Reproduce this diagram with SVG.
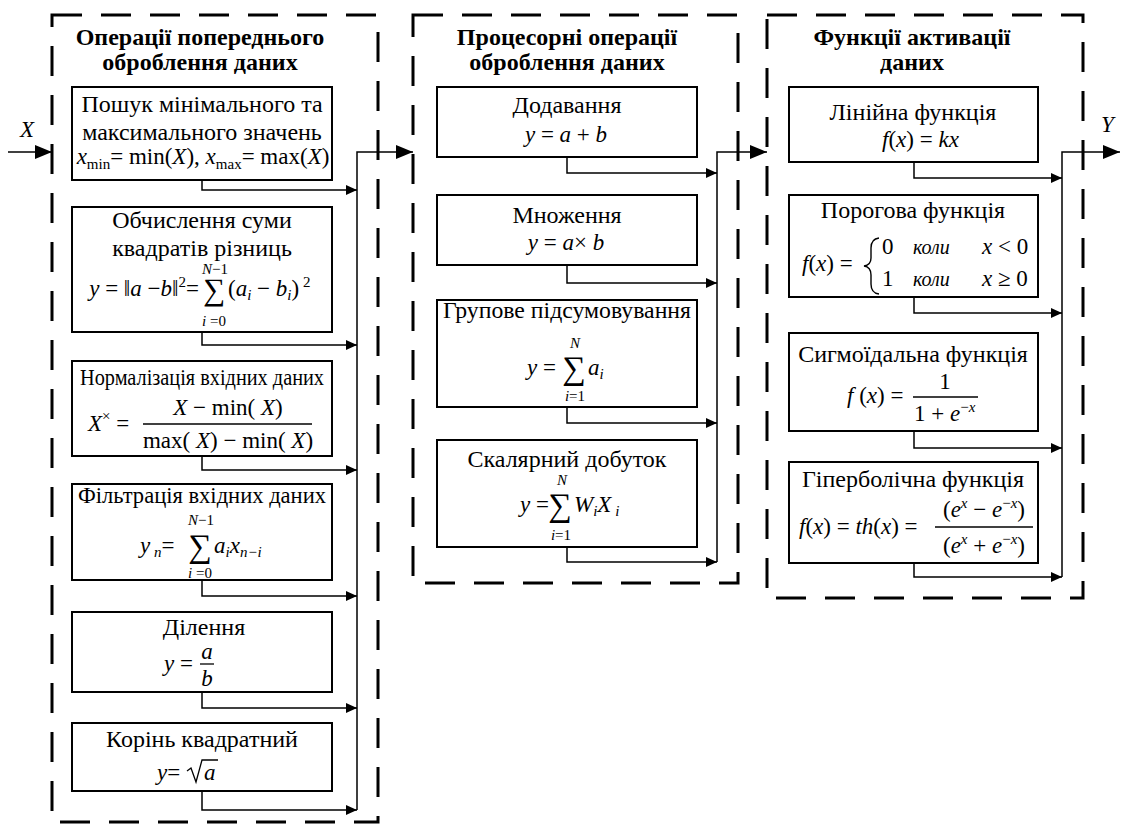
<svg xmlns="http://www.w3.org/2000/svg" width="1123" height="828" viewBox="0 0 1123 828">
<style>
.t{font-size:24px;font-weight:bold;text-anchor:middle}
.b{font-size:24px;text-anchor:middle}
.f{font-size:23px;font-style:italic}
.r{font-style:normal}
.s{font-size:15px}
.c{text-anchor:middle}
.cont{fill:none;stroke:#000;stroke-width:3;stroke-dasharray:30 19}
.box{fill:#fff;stroke:#000;stroke-width:2}
.ln{fill:none;stroke:#000;stroke-width:1.5}
.fr{stroke:#000;stroke-width:1.3}
</style>
<defs>
<marker id="ah" markerUnits="userSpaceOnUse" markerWidth="12" markerHeight="10" refX="11" refY="5" orient="auto"><path d="M0,0 L11,5 L0,10 Z" fill="#000"/></marker>
<marker id="big" markerUnits="userSpaceOnUse" markerWidth="18" markerHeight="14" refX="17" refY="7" orient="auto"><path d="M0,0 L17,7 L0,14 Z" fill="#000"/></marker>
</defs>

<g id="containers">
<rect class="cont" x="52" y="15" width="326" height="807"/>
<rect class="cont" x="413" y="15" width="325" height="568"/>
<rect class="cont" x="767" y="15" width="316" height="583"/>
<text font-family="Liberation Serif, serif" class="t" x="200" y="45">Операції попереднього</text>
<text font-family="Liberation Serif, serif" class="t" x="200" y="70">оброблення даних</text>
<text font-family="Liberation Serif, serif" class="t" x="567" y="45">Процесорні операції</text>
<text font-family="Liberation Serif, serif" class="t" x="567" y="70">оброблення даних</text>
<text font-family="Liberation Serif, serif" class="t" x="912" y="45">Функції активації</text>
<text font-family="Liberation Serif, serif" class="t" x="912" y="70">даних</text>
</g>

<g id="connectors">
<path class="ln" d="M8,152 H52" marker-end="url(#big)"/>
<path class="ln" d="M202,180 V190 H357" marker-end="url(#ah)"/>
<path class="ln" d="M202,332 V345 H357" marker-end="url(#ah)"/>
<path class="ln" d="M202,456 V470 H357" marker-end="url(#ah)"/>
<path class="ln" d="M202,580 V596 H357" marker-end="url(#ah)"/>
<path class="ln" d="M202,692 V708 H357" marker-end="url(#ah)"/>
<path class="ln" d="M202,791 V810 H357" marker-end="url(#ah)"/>
<path class="ln" d="M357,810 V152 H413" marker-end="url(#big)"/>
<path class="ln" d="M567,157 V173 H717" marker-end="url(#ah)"/>
<path class="ln" d="M567,265 V283 H717" marker-end="url(#ah)"/>
<path class="ln" d="M567,407 V423 H717" marker-end="url(#ah)"/>
<path class="ln" d="M567,547 V562 H717" marker-end="url(#ah)"/>
<path class="ln" d="M717,562 V152 H767" marker-end="url(#big)"/>
<path class="ln" d="M914,162 V178 H1062" marker-end="url(#ah)"/>
<path class="ln" d="M914,297 V313 H1062" marker-end="url(#ah)"/>
<path class="ln" d="M914,431 V448 H1062" marker-end="url(#ah)"/>
<path class="ln" d="M914,563 V577 H1062" marker-end="url(#ah)"/>
<path class="ln" d="M1062,577 V152 H1120" marker-end="url(#big)"/>
<text font-family="Liberation Serif, serif" class="f" x="20" y="137" font-size="24">X</text>
<text font-family="Liberation Serif, serif" class="f" x="1101" y="132">Y</text>
</g>

<g id="n-minmax">
<rect class="box" x="72" y="87" width="260" height="93"/>
<text font-family="Liberation Serif, serif" class="b" x="202" y="112">Пошук мінімального та</text>
<text font-family="Liberation Serif, serif" class="b" x="202" y="140">максимального значень</text>
<text font-family="Liberation Serif, serif" class="f c" x="203" y="164" font-size="22">x<tspan class="r s" dy="5">min</tspan><tspan class="r" dy="-5">= min(</tspan>X<tspan class="r">), </tspan>x<tspan class="r s" dy="5">max</tspan><tspan class="r" dy="-5">= max(</tspan>X<tspan class="r">)</tspan></text>
</g>

<g id="n-sumsq">
<rect class="box" x="72" y="207" width="260" height="125"/>
<text font-family="Liberation Serif, serif" class="b" x="202" y="228">Обчислення суми</text>
<text font-family="Liberation Serif, serif" class="b" x="202" y="256">квадратів різниць</text>
<text font-family="Liberation Serif, serif" class="f" x="199" y="296" text-anchor="end">y<tspan class="r"> = ‖</tspan>a<tspan class="r"> −</tspan>b<tspan class="r">‖</tspan><tspan class="r s" dy="-9">2</tspan><tspan class="r" dy="9">=</tspan></text>
<text font-family="Liberation Serif, serif" x="214" y="300" font-size="31" text-anchor="middle">∑</text>
<text font-family="Liberation Serif, serif" class="f s c" x="215" y="274">N<tspan class="r">−1</tspan></text>
<text font-family="Liberation Serif, serif" class="f s c" x="214" y="326">i<tspan class="r"> =0</tspan></text>
<text font-family="Liberation Serif, serif" class="f" x="228" y="296"><tspan class="r">(</tspan>a<tspan class="s" dy="4">i</tspan><tspan class="r" dy="-4"> − </tspan>b<tspan class="s" dy="4">i</tspan><tspan class="r" dy="-4">)</tspan><tspan class="r s" dy="-9"> 2</tspan></text>
</g>

<g id="n-norm">
<rect class="box" x="72" y="361" width="260" height="95"/>
<text font-family="Liberation Serif, serif" class="b" x="202" y="385" font-size="21" textLength="244" lengthAdjust="spacingAndGlyphs">Нормалізація вхідних даних</text>
<text font-family="Liberation Serif, serif" class="f" x="88" y="431">X<tspan class="r s" dy="-10">×</tspan><tspan class="r" dy="10"> =</tspan></text>
<text font-family="Liberation Serif, serif" class="f c" x="228" y="415"><tspan>X</tspan><tspan class="r"> − min(</tspan> X<tspan class="r">)</tspan></text>
<line class="fr" x1="143" y1="424" x2="312" y2="424"/>
<text font-family="Liberation Serif, serif" class="f c" x="228" y="448"><tspan class="r">max(</tspan> X<tspan class="r">) − min(</tspan> X<tspan class="r">)</tspan></text>
</g>

<g id="n-filter">
<rect class="box" x="72" y="484" width="260" height="96"/>
<text font-family="Liberation Serif, serif" class="b" x="202" y="503" font-size="22" textLength="248" lengthAdjust="spacingAndGlyphs">Фільтрація вхідних даних</text>
<text font-family="Liberation Serif, serif" class="f" x="140" y="553">y<tspan class="s" dy="4"> n</tspan><tspan class="r" dy="-4">=</tspan></text>
<text font-family="Liberation Serif, serif" x="200" y="557" font-size="33" text-anchor="middle">∑</text>
<text font-family="Liberation Serif, serif" class="f s c" x="201" y="525">N<tspan class="r">−1</tspan></text>
<text font-family="Liberation Serif, serif" class="f s c" x="200" y="578">i<tspan class="r"> =0</tspan></text>
<text font-family="Liberation Serif, serif" class="f" x="214" y="553">a<tspan class="s" dy="4">i</tspan><tspan dy="-4">x</tspan><tspan class="s" dy="4">n−i</tspan></text>
</g>

<g id="n-div">
<rect class="box" x="72" y="612" width="260" height="80"/>
<text font-family="Liberation Serif, serif" class="b" x="204" y="635">Ділення</text>
<text font-family="Liberation Serif, serif" class="f" x="164" y="671">y<tspan class="r"> =</tspan></text>
<text font-family="Liberation Serif, serif" class="f c" x="207" y="659">a</text>
<line class="fr" x1="200" y1="664" x2="214" y2="664"/>
<text font-family="Liberation Serif, serif" class="f c" x="207" y="686">b</text>
</g>

<g id="n-sqrt">
<rect class="box" x="72" y="723" width="260" height="68"/>
<text font-family="Liberation Serif, serif" class="b" x="202" y="747">Корінь квадратний</text>
<text font-family="Liberation Serif, serif" class="f" x="157" y="780">y<tspan class="r">= </tspan></text>
<path d="M187,771 L191,768 L196,782 L202,760 H218" fill="none" stroke="#000" stroke-width="1.3"/>
<text font-family="Liberation Serif, serif" class="f" x="204" y="780">a</text>
</g>

<g id="n-add">
<rect class="box" x="437" y="87" width="260" height="70"/>
<text font-family="Liberation Serif, serif" class="b" x="567" y="113">Додавання</text>
<text font-family="Liberation Serif, serif" class="f c" x="566" y="142">y<tspan class="r"> = </tspan>a<tspan class="r"> + </tspan>b</text>
</g>

<g id="n-mul">
<rect class="box" x="437" y="195" width="260" height="70"/>
<text font-family="Liberation Serif, serif" class="b" x="567" y="223">Множення</text>
<text font-family="Liberation Serif, serif" class="f c" x="566" y="250">y<tspan class="r"> = </tspan>a<tspan class="r">× </tspan>b</text>
</g>

<g id="n-groupsum">
<rect class="box" x="437" y="300" width="260" height="107"/>
<text font-family="Liberation Serif, serif" class="b" x="567" y="318" textLength="248" lengthAdjust="spacingAndGlyphs">Групове підсумовування</text>
<text font-family="Liberation Serif, serif" class="f" x="527" y="375">y<tspan class="r"> =</tspan></text>
<text font-family="Liberation Serif, serif" x="574" y="379" font-size="33" text-anchor="middle">∑</text>
<text font-family="Liberation Serif, serif" class="f s c" x="575" y="348">N</text>
<text font-family="Liberation Serif, serif" class="f s c" x="575" y="401">i<tspan class="r">=1</tspan></text>
<text font-family="Liberation Serif, serif" class="f" x="588" y="375">a<tspan class="s" dy="4">i</tspan></text>
</g>

<g id="n-scalar">
<rect class="box" x="437" y="440" width="260" height="107"/>
<text font-family="Liberation Serif, serif" class="b" x="567" y="467">Скалярний добуток</text>
<text font-family="Liberation Serif, serif" class="f" x="520" y="512">y<tspan class="r"> =</tspan></text>
<text font-family="Liberation Serif, serif" x="560" y="516" font-size="33" text-anchor="middle">∑</text>
<text font-family="Liberation Serif, serif" class="f s c" x="562" y="485">N</text>
<text font-family="Liberation Serif, serif" class="f s c" x="561" y="540">i<tspan class="r">=1</tspan></text>
<text font-family="Liberation Serif, serif" class="f" x="574" y="512">W<tspan class="s" dy="4">i</tspan><tspan dy="-4">X</tspan><tspan class="s" dy="4"> i</tspan></text>
</g>

<g id="n-linear">
<rect class="box" x="789" y="87" width="249" height="75"/>
<text font-family="Liberation Serif, serif" class="b" x="913" y="120">Лінійна функція</text>
<text font-family="Liberation Serif, serif" class="f" x="882" y="147">f<tspan class="r">(</tspan>x<tspan class="r">) = </tspan>kx</text>
</g>

<g id="n-threshold">
<rect class="box" x="789" y="195" width="249" height="102"/>
<text font-family="Liberation Serif, serif" class="b" x="913" y="218">Порогова функція</text>
<text font-family="Liberation Serif, serif" class="f" x="802" y="271">f<tspan class="r">(</tspan>x<tspan class="r">) =</tspan></text>
<path d="M879,238 Q871,239 871,248 V258 Q871,265 864,266 Q871,267 871,275 V284 Q871,293 879,294" fill="none" stroke="#000" stroke-width="1.4"/>
<text font-family="Liberation Serif, serif" class="f" x="882" y="254"><tspan class="r">0</tspan><tspan x="913" font-size="20">коли</tspan><tspan x="982">x</tspan><tspan class="r"> &lt; 0</tspan></text>
<text font-family="Liberation Serif, serif" class="f" x="882" y="286"><tspan class="r">1</tspan><tspan x="913" font-size="20">коли</tspan><tspan x="982">x</tspan><tspan class="r"> ≥ 0</tspan></text>
</g>

<g id="n-sigmoid">
<rect class="box" x="789" y="333" width="249" height="98"/>
<text font-family="Liberation Serif, serif" class="b" x="913" y="362">Сигмоїдальна функція</text>
<text font-family="Liberation Serif, serif" class="f" x="847" y="403">f<tspan class="r"> (</tspan>x<tspan class="r">) =</tspan></text>
<text font-family="Liberation Serif, serif" class="c" x="945" y="389" font-size="23">1</text>
<line class="fr" x1="913" y1="397" x2="978" y2="397"/>
<text font-family="Liberation Serif, serif" class="f" x="914" y="421"><tspan class="r">1 + </tspan>e<tspan class="r s" dy="-9">−</tspan><tspan class="s">x</tspan></text>
</g>

<g id="n-tanh">
<rect class="box" x="789" y="462" width="249" height="101"/>
<text font-family="Liberation Serif, serif" class="b" x="913" y="487">Гіперболічна функція</text>
<text font-family="Liberation Serif, serif" class="f" x="799" y="534" font-size="22">f<tspan class="r">(</tspan>x<tspan class="r">) = </tspan>th<tspan class="r">(</tspan>x<tspan class="r">) =</tspan></text>
<text font-family="Liberation Serif, serif" class="f c" x="984" y="517" font-size="22"><tspan class="r">(</tspan>e<tspan class="s" dy="-9">x</tspan><tspan class="r" dy="9"> − </tspan>e<tspan class="r s" dy="-9">−</tspan><tspan class="s">x</tspan><tspan class="r" dy="9">)</tspan></text>
<line class="fr" x1="935" y1="527" x2="1033" y2="527"/>
<text font-family="Liberation Serif, serif" class="f c" x="984" y="553" font-size="22"><tspan class="r">(</tspan>e<tspan class="s" dy="-9">x</tspan><tspan class="r" dy="9"> + </tspan>e<tspan class="r s" dy="-9">−</tspan><tspan class="s">x</tspan><tspan class="r" dy="9">)</tspan></text>
</g>
</svg>
